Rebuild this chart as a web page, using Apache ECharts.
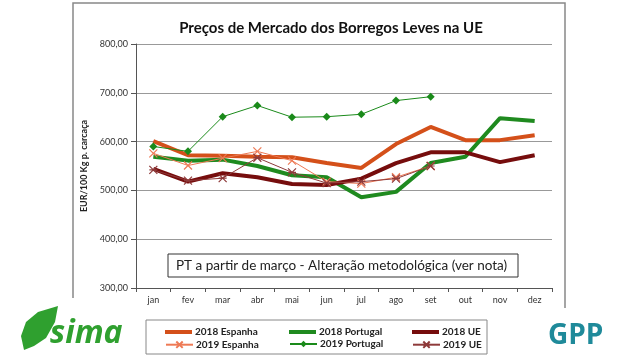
<!DOCTYPE html>
<html><head><meta charset="utf-8">
<script src="https://cdn.jsdelivr.net/npm/echarts@6/dist/echarts.min.js"></script>
<style>html,body{margin:0;padding:0;background:#fff}#c{width:640px;height:360px}</style>
</head><body><div id="c"></div>
<script>
var months = ['jan','fev','mar','abr','mai','jun','jul','ago','set','out','nov','dez'];
var yTicks = [300, 400, 500, 600, 700, 800];
var es2018 = [601, 572, 571, 569, 568, 556, 546, 595, 630, 603, 603, 613];
var pt2018 = [569, 561, 563, 550, 531, 527, 486, 497, 556, 569, 648, 642];
var ue2018 = [544, 518, 535, 527, 513, 511, 524, 556, 578, 578, 558, 572];
var es2019 = [576, 551, 566, 580, 561, 518, 514, 527, 550];
var pt2019 = [590, 580, 651, 674, 650, 651, 656, 684, 692];
var ue2019 = [542, 520, 525, 567, 537, 515, 518, 524, 550];
var names = ['2018 Espanha','2018 Portugal','2018 UE','2019 Espanha','2019 Portugal','2019 UE'];
var titleText = 'Preços de Mercado dos Borregos Leves na UE';
var yName = 'EUR/100 Kg p. carcaça';
var noteText = 'PT a partir de março - Alteração metodológica (ver nota)';

var FONT = 'Lato';
var cES18 = '#d4501a', cPT18 = '#1f8a1f', cUE18 = '#760d0d';
var cES19 = '#ee7a55', cPT19 = '#1a8a1a', cUE19 = '#8e3a3a';
var xPath = 'path://M0,0L10,10M10,0L0,10';
var starPath = 'path://M0,0L10,10M10,0L0,10M0,5L10,5';

function legendAt(name, left, top, thick) {
  var l = {
    data: [name], left: left, top: top, itemWidth: 27, itemHeight: thick ? 4 : 8,
    textStyle: {fontFamily: FONT, fontWeight: 'bold', fontSize: 10, color: '#222', padding: [0,0,0,-2]},
    padding: 0
  };
  if (thick) { l.icon = 'rect'; }
  return l;
}

var chart = echarts.init(document.getElementById('c'));
chart.setOption({
  animation: false,
  title: {text: titleText, left: 326, top: 16, textAlign: 'center',
    textStyle: {fontFamily: FONT, fontSize: 15, fontWeight: 'bold', color: '#111'}},
  grid: {left: 136, right: 88, top: 44, bottom: 72},
  legend: [
    legendAt(names[0], 165, 327, true), legendAt(names[1], 289, 327, true), legendAt(names[2], 412, 327, true),
    legendAt(names[3], 165, 339), legendAt(names[4], 289, 339), legendAt(names[5], 412, 339)
  ],
  xAxis: {
    type: 'category', data: months, boundaryGap: true,
    axisLine: {lineStyle: {color: '#555', width: 1}},
    axisTick: {show: true, length: 4, lineStyle: {color: '#555'}},
    axisLabel: {fontFamily: FONT, fontSize: 9, color: '#333', margin: 8}
  },
  yAxis: {
    type: 'value', min: yTicks[0], max: yTicks[yTicks.length-1], interval: 100,
    name: yName, nameLocation: 'middle', nameGap: 42, nameRotate: 90,
    nameTextStyle: {fontFamily: FONT, fontSize: 9, fontWeight: 'bold', color: '#222'},
    axisLine: {show: true, lineStyle: {color: '#555', width: 1}},
    axisTick: {show: true, length: 5, lineStyle: {color: '#555'}},
    axisLabel: {fontFamily: FONT, fontSize: 9, color: '#333', margin: 8,
      formatter: function (v) { return v.toFixed(2).replace('.', ','); }},
    splitLine: {lineStyle: {color: '#999', width: 1}}
  },
  series: [
    {name: names[0], type: 'line', data: es2018, symbol: 'none', lineStyle: {color: cES18, width: 4}, itemStyle: {color: cES18}, z: 3},
    {name: names[1], type: 'line', data: pt2018, symbol: 'none', lineStyle: {color: cPT18, width: 4}, itemStyle: {color: cPT18}, z: 3},
    {name: names[2], type: 'line', data: ue2018, symbol: 'none', lineStyle: {color: cUE18, width: 4}, itemStyle: {color: cUE18}, z: 3},
    {name: names[3], type: 'line', data: es2019, symbol: xPath, symbolSize: 8, showAllSymbol: true,
      lineStyle: {color: cES19, width: 1}, itemStyle: {color: 'none', borderColor: cES19, borderWidth: 1.2}, z: 4},
    {name: names[4], type: 'line', data: pt2019, symbol: 'diamond', symbolSize: 8, showAllSymbol: true,
      lineStyle: {color: cPT19, width: 1}, itemStyle: {color: cPT19}, z: 4},
    {name: names[5], type: 'line', data: ue2019, symbol: starPath, symbolSize: 8, showAllSymbol: true,
      lineStyle: {color: cUE19, width: 1}, itemStyle: {color: 'none', borderColor: cUE19, borderWidth: 1.2}, z: 4}
  ],
  graphic: [
    {type: 'polyline', shape: {points: [[73,298],[73,3],[565,3],[565,308]]}, style: {stroke: '#888', fill: null, lineWidth: 1.5}, silent: true},
    {type: 'rect', shape: {x: 168, y: 254, width: 350, height: 23}, style: {stroke: '#333', fill: '#fff', lineWidth: 1}, z: 10},
    {type: 'text', x: 176, y: 266, z: 11, style: {text: noteText, fontFamily: FONT, fontSize: 13.5, fill: '#222', textVerticalAlign: 'middle'}},
    {type: 'rect', shape: {x: 146, y: 320, width: 341, height: 34}, style: {stroke: '#888', fill: null, lineWidth: 1}, z: 0},
    {type: 'text', x: 548, y: 322, style: {text: 'GPP', fontFamily: 'Open Sans', fontWeight: 'bold', fontSize: 28, fill: '#1f8a9a'}},
    {type: 'polygon', shape: {points: [[24,350],[21,336],[26,322],[38,312],[58,306],[55,322],[46,338],[34,346]]}, style: {fill: '#2fa02f'}},
    {type: 'text', x: 50, y: 318, style: {text: 'sima', fontFamily: 'Open Sans', fontWeight: 'bold', fontStyle: 'italic', fontSize: 32, fill: '#2fa02f'}}
  ]
});
</script></body></html>
